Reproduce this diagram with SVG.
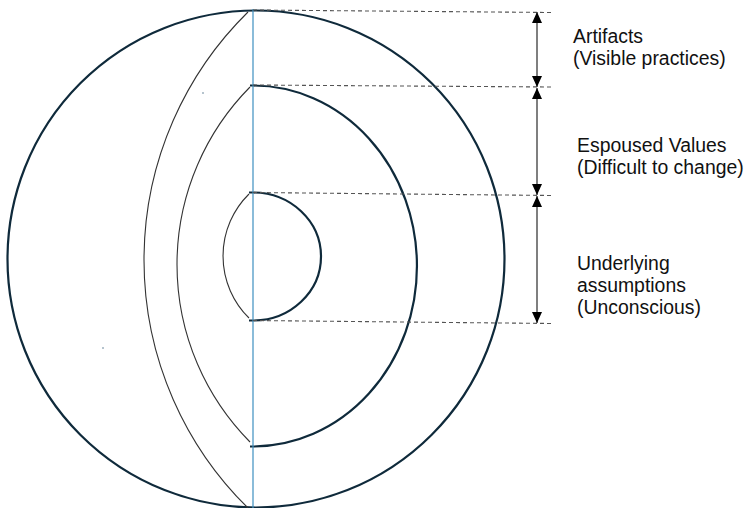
<svg xmlns="http://www.w3.org/2000/svg" width="747" height="508" viewBox="0 0 747 508">
<style>
.ring{fill:none;stroke:#0f2a3b;stroke-width:2.2}
.thin{fill:none;stroke:#333;stroke-width:1.1}
.axis{fill:none;stroke:#3d8fc0;stroke-width:1.2}
.dash{fill:none;stroke:#555;stroke-width:1.1;stroke-dasharray:4 3}
.arr{fill:none;stroke:#555;stroke-width:1.5;marker-start:url(#ah);marker-end:url(#ah)}
.lbl{font-family:"Liberation Sans",Arial,sans-serif;font-size:19.4px;fill:#111}
</style>
<defs>
<marker id="ah" markerUnits="userSpaceOnUse" markerWidth="11" markerHeight="10" viewBox="0 0 11 10" refX="11" refY="5" orient="auto-start-reverse">
<path d="M0,0 L11,5 L0,10 z" fill="#000"/>
</marker>
</defs>
<rect width="747" height="508" fill="#fff"/>
<g id="artifacts-ring">
<circle class="ring" cx="256" cy="259" r="248.5"/>
<path class="thin" d="M248,12 A347.7,347.7 0 0 0 248,508"/>
</g>
<g id="values-ring">
<path class="ring" d="M250,85.5 L253,85.5 A164,180.5 0 0 1 253,446.5 L250,446.5"/>
<path class="thin" d="M250,87 A252.3,252.3 0 0 0 250,442"/>
</g>
<g id="assumptions-core">
<path class="ring" d="M249,192.5 L253,192.5 A68,64 0 0 1 253,320.5 L249,320.5"/>
<path class="thin" d="M249,194 A87,87 0 0 0 249,318"/>
</g>
<g id="axis">
<line class="axis" x1="253" y1="9" x2="253" y2="508"/>
</g>
<g id="specks">
<circle cx="203" cy="93" r="0.8" fill="#5a7a90"/>
<circle cx="103" cy="348" r="0.8" fill="#5a7a90"/>
</g>
<g id="connectors">
<path class="dash" d="M253,10 L552,12.5"/>
<path class="dash" d="M253,85 L552,87"/>
<path class="dash" d="M253,192.5 L552,195.5"/>
<path class="dash" d="M253,320.5 L552,323.5"/>
<path class="arr" d="M537,12 L537,87"/>
<path class="arr" d="M537,88 L537,195"/>
<path class="arr" d="M537,196 L537,323"/>
</g>
<g id="label-artifacts">
<text class="lbl" x="573" y="43">Artifacts</text>
<text class="lbl" x="573" y="65">(Visible practices)</text>
</g>
<g id="label-values">
<text class="lbl" x="577" y="152">Espoused Values</text>
<text class="lbl" x="577" y="174">(Difficult to change)</text>
</g>
<g id="label-assumptions">
<text class="lbl" x="577" y="270">Underlying</text>
<text class="lbl" x="577" y="292">assumptions</text>
<text class="lbl" x="577" y="314">(Unconscious)</text>
</g>
</svg>
